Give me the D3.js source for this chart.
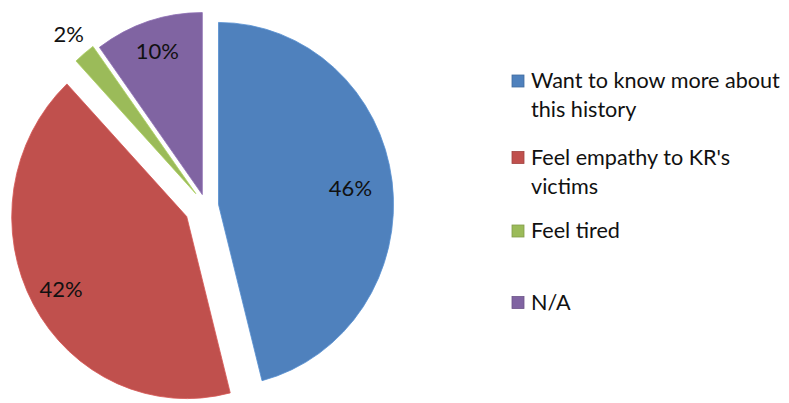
<!DOCTYPE html>
<html><head><meta charset="utf-8">
<script src="https://cdn.jsdelivr.net/npm/d3@7"></script>
<style>body{margin:0;background:#fff}svg{display:block}text{font-family:Lato,"Open Sans",sans-serif}</style>
</head><body><svg id="c" width="789" height="403"></svg>
<script>
const categories = ["Want to know more about this history", "Feel empathy to KR's victims", "Feel tired", "N/A"];
const legendLines = [["Want to know more about", "this history"], ["Feel empathy to KR's", "victims"], ["Feel tired"], ["N/A"]];
const values = [46, 42, 2, 10];
const labels = ["46%", "42%", "2%", "10%"];
const colors = ["#4F81BD", "#C0504D", "#9BBB59", "#8064A2"];
const explode = [12.6, 22, 16, 12];
const labelPos = [0.76, 0.82, 1.14, 0.83];

const svg = d3.select("#c");
const cx = 206, cy = 206, rx = 175, ry = 182;
const sy = ry / rx;
const pie = d3.pie().sort(null).value(d => d)(values);
const arc = d3.arc().innerRadius(0).outerRadius(rx);

pie.forEach((p, i) => {
  const mid = (p.startAngle + p.endAngle) / 2;
  const ox = cx + explode[i] * Math.sin(mid);
  const oy = cy - explode[i] * Math.cos(mid);
  svg.append("path")
    .attr("d", arc(p))
    .attr("transform", `translate(${ox},${oy}) scale(1,${sy})`)
    .attr("fill", colors[i])
    .attr("stroke", d3.color(colors[i]).brighter(0.3))
    .attr("stroke-width", 0.8);
  const lx = ox + labelPos[i] * rx * Math.sin(mid);
  const ly = oy - labelPos[i] * ry * Math.cos(mid);
  svg.append("text")
    .attr("x", lx).attr("y", ly)
    .attr("text-anchor", "middle").attr("dominant-baseline", "central")
    .attr("font-size", 22).attr("fill", "#111")
    .text(labels[i]);
});

const legY = [81, 157.5, 231, 302.5];
const lg = svg.append("g");
categories.forEach((c, i) => {
  lg.append("rect").attr("x", 512).attr("y", legY[i] - 6).attr("width", 12).attr("height", 12)
    .attr("fill", colors[i]).attr("stroke", d3.color(colors[i]).darker(0.5)).attr("stroke-width", 0.8);
  legendLines[i].forEach((ln, j) => {
    lg.append("text").attr("x", 531).attr("y", legY[i] + 7 + j * 29)
      .attr("font-size", 21.6).attr("fill", "#111").text(ln);
  });
});
</script></body></html>
